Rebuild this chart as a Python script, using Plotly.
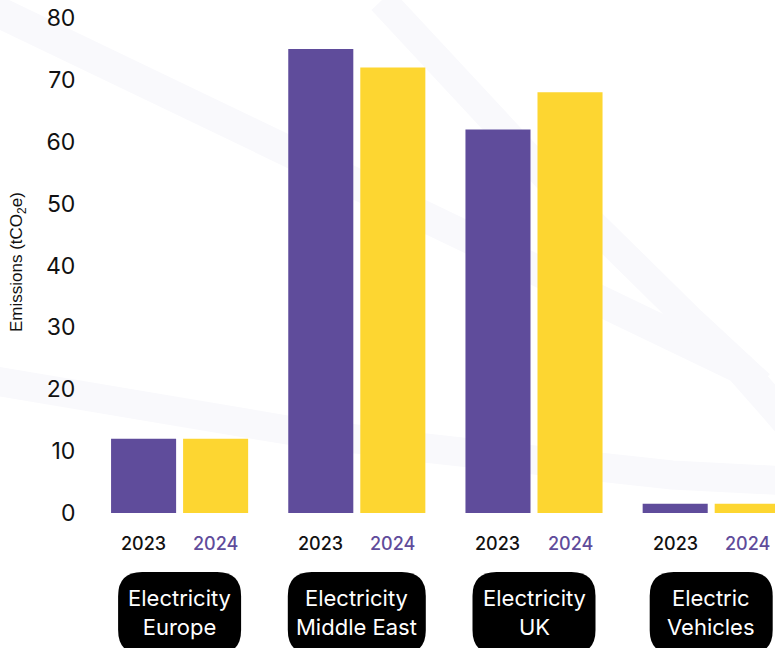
import plotly.graph_objects as go

# ---------------- data ----------------
categories = ["Electricity Europe", "Electricity Middle East", "Electricity UK", "Electric Vehicles"]
category_lines = [("Electricity", "Europe"), ("Electricity", "Middle East"),
                  ("Electricity", "UK"), ("Electric", "Vehicles")]
years = ["2023", "2024"]
values_2023 = [12, 75, 62, 1.5]
values_2024 = [12, 72, 68, 1.5]
y_ticks = [0, 10, 20, 30, 40, 50, 60, 70, 80]

# ---------------- style ----------------
PURPLE = "#5f4c9b"
YELLOW = "#fdd631"
STRIPE = "#f9f9fc"
W, H = 775, 648
L, R, T, B = 91, 0, 18, 135
PW, PH = W - L - R, H - T - B
BOTTOM_PX = H - B

BARGAP = 0.187
BARGROUPGAP = 0.097
XMAX = (PW / 177.2) - 0.5

def paper(x, y):
    return (x - L) / PW, (BOTTOM_PX - y) / PH

def path_paper(pts):
    s = []
    for k, (x, y) in enumerate(pts):
        px, py = paper(x, y)
        s.append(("M" if k == 0 else "L") + f"{px:.5f},{py:.5f}")
    return " ".join(s)

fig = go.Figure()
xs = list(range(len(categories)))
fig.add_trace(go.Bar(x=xs, y=values_2023, name=years[0], marker_color=PURPLE,
                     marker_line_width=0, hoverinfo="skip"))
fig.add_trace(go.Bar(x=xs, y=values_2024, name=years[1], marker_color=YELLOW,
                     marker_line_width=0, hoverinfo="skip"))

# decorative background stripes
decor = [
    ([(-10, 8), (740, 368), (790, 425)], 31),
    ([(382, 0), (568, 200), (692, 322), (760, 385)], 29),
    ([(-10, 380), (287, 430), (425, 448), (672, 475), (790, 481)], 29),
]
shapes = []
for pts, w in decor:
    shapes.append(dict(type="path", xref="paper", yref="paper", path=path_paper(pts),
                       line=dict(color=STRIPE, width=w), layer="below"))

# bar offsets within group
slot = (1 - BARGAP) / 2
offs = [-slot / 2, slot / 2]

annotations = []
for i in xs:
    for j, yr in enumerate(years):
        annotations.append(dict(x=i + offs[j], xref="x", y=paper(0, 543)[1], yref="paper",
                                text=yr, showarrow=False, xanchor="center", yanchor="middle",
                                font=dict(family="Inter, sans-serif", size=18, weight=500,
                                          color="#111111" if j == 0 else PURPLE)))
    l1, l2 = category_lines[i]
    hw = 69 if len(l2) > 8 else 61.5
    hh, r = 41, 24
    p = (f"M{-hw + r},{-hh} L{hw - r},{-hh} Q{hw},{-hh} {hw},{-hh + r} L{hw},{hh - r} "
         f"Q{hw},{hh} {hw - r},{hh} L{-hw + r},{hh} Q{-hw},{hh} {-hw},{hh - r} "
         f"L{-hw},{-hh + r} Q{-hw},{-hh} {-hw + r},{-hh} Z")
    shapes.append(dict(type="path", xref="x", yref="paper", xsizemode="pixel", ysizemode="pixel",
                       xanchor=i, yanchor=paper(0, 613)[1], path=p,
                       fillcolor="#000000", line=dict(width=0), layer="above"))
    annotations.append(dict(x=i, xref="x", y=paper(0, 612)[1], yref="paper",
                            text=f"{l1}<br>{l2}", showarrow=False,
                            xanchor="center", yanchor="middle", align="center",
                            font=dict(family="Inter, sans-serif", size=22, color="#ffffff")))

annotations.append(dict(x=paper(18, 0)[0], xref="paper", y=paper(0, 262)[1], yref="paper",
                        text="Emissions (tCO<sub>2</sub>e)", textangle=-90, showarrow=False,
                        xanchor="center", yanchor="middle",
                        font=dict(family="Liberation Sans, Arial, sans-serif", size=17,
                                  color="#111111")))

fig.update_layout(
    width=W, height=H,
    margin=dict(l=L, r=R, t=T, b=B, pad=0),
    paper_bgcolor="#ffffff", plot_bgcolor="rgba(0,0,0,0)",
    barmode="group", bargap=BARGAP, bargroupgap=BARGROUPGAP,
    showlegend=False,
    shapes=shapes, annotations=annotations,
    xaxis=dict(range=[-0.5, XMAX], showticklabels=False, showgrid=False, zeroline=False,
               showline=False, ticks="", fixedrange=True),
    yaxis=dict(range=[0, 80], tickvals=y_ticks, showgrid=False, zeroline=False, showline=False,
               ticks="outside", ticklen=10, tickcolor="rgba(0,0,0,0)",
               tickfont=dict(family="Inter, sans-serif", size=23, color="#111111"),
               fixedrange=True),
)

fig.write_html("out.html", config={"displayModeBar": False},
               post_script="document.body.style.margin='0';document.body.style.overflow='hidden';")
